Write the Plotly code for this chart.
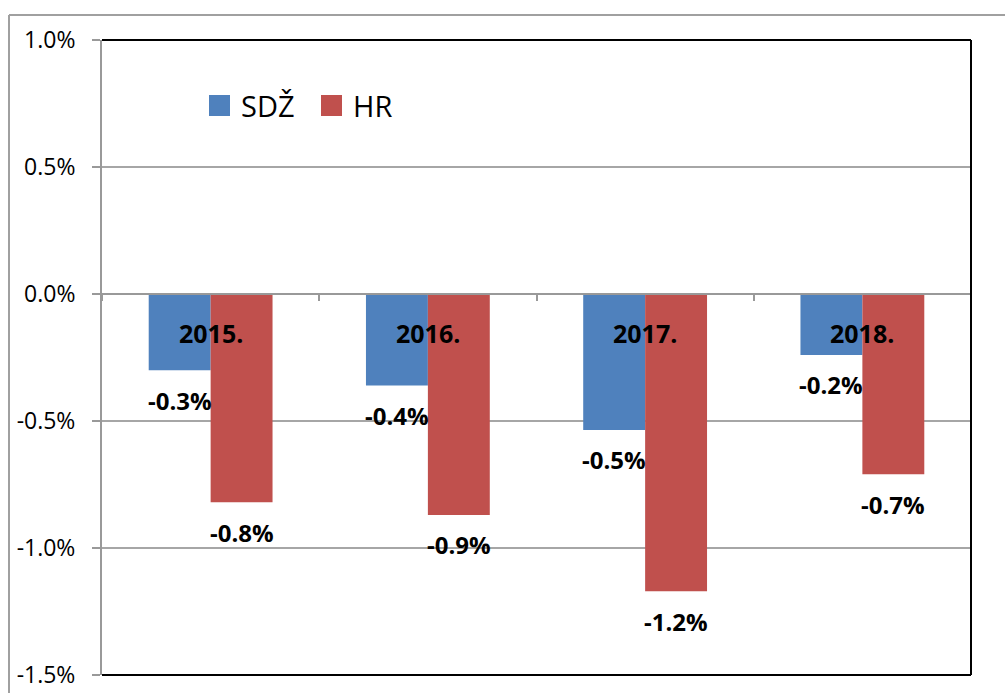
import plotly.graph_objects as go

categories = ["2015.", "2016.", "2017.", "2018."]
series_names = ["SDŽ", "HR"]
sdz_values = [-0.30, -0.36, -0.535, -0.24]
hr_values = [-0.82, -0.87, -1.17, -0.71]
colors = ["#4F81BD", "#C0504D"]
y_ticks = [1.0, 0.5, 0.0, -0.5, -1.0, -1.5]

W, H = 1005, 693
L, R, T, B = 102, 971, 40, 675

def px_x(p):
    return (p - L) / (R - L)

def px_y(p):
    return (B - p) / (B - T)

fig = go.Figure()
for name, vals, col in zip(series_names, [sdz_values, hr_values], colors):
    fig.add_trace(go.Bar(x=categories, y=vals, name=name, marker_color=col,
                         marker_line_width=0, showlegend=False, hoverinfo="skip"))

annotations = []
# category labels (category index positions)
for i, c in enumerate(categories):
    annotations.append(dict(x=i, y=0, xref="x", yref="y", text=f"<b>{c}</b>",
                            showarrow=False, yshift=-39, yanchor="middle",
                            font=dict(family="Open Sans", size=25, color="black")))
# data labels
for vals, shift in [(sdz_values, -31), (hr_values, 31)]:
    for i, v in enumerate(vals):
        annotations.append(dict(x=i, y=v, xref="x", yref="y", text=f"<b>{v:.1f}%</b>",
                                showarrow=False, xshift=shift, yshift=-30, yanchor="middle",
                                font=dict(family="Open Sans", size=24, color="black")))
# legend texts
legend_x = [239, 351]
sq_x = [209, 321]
for name, tx in zip(series_names, legend_x):
    annotations.append(dict(x=px_x(tx), y=px_y(105), xref="paper", yref="paper", text=name,
                            showarrow=False, xanchor="left", yanchor="middle",
                            font=dict(family="Open Sans", size=29, color="black")))

shapes = []
for sx, col in zip(sq_x, colors):
    shapes.append(dict(type="rect", xref="paper", yref="paper",
                       x0=px_x(sx), x1=px_x(sx + 21), y0=px_y(116), y1=px_y(95),
                       fillcolor=col, line_width=0))
# plot frame: top, right, bottom black
shapes.append(dict(type="line", xref="paper", yref="paper", x0=0, x1=1, y0=1, y1=1,
                   line=dict(color="black", width=2)))
shapes.append(dict(type="line", xref="paper", yref="paper", x0=1, x1=1, y0=0, y1=1,
                   line=dict(color="black", width=2)))
shapes.append(dict(type="line", xref="paper", yref="paper", x0=0, x1=1, y0=0, y1=0,
                   line=dict(color="black", width=2)))
# outer chart border (partially cut)
shapes.append(dict(type="line", xref="paper", yref="paper", x0=px_x(9), x1=px_x(1010),
                   y0=px_y(15), y1=px_y(15), line=dict(color="#a0a0a0", width=2)))
shapes.append(dict(type="line", xref="paper", yref="paper", x0=px_x(9), x1=px_x(9),
                   y0=px_y(15), y1=px_y(700), line=dict(color="#a0a0a0", width=2)))

fig.update_layout(
    width=W, height=H,
    margin=dict(l=L, r=W - R, t=T, b=H - B, pad=0, autoexpand=False),
    paper_bgcolor="white", plot_bgcolor="white",
    barmode="group", bargap=0.43, bargroupgap=0,
    showlegend=False,
    annotations=annotations, shapes=shapes,
    xaxis=dict(type="category", range=[-0.5, len(categories) - 0.5],
               anchor="free", position=px_y(294), showticklabels=False,
               ticks="outside", ticklen=6, tickcolor="#999999", tickwidth=2,
               tickson="boundaries", showline=True, linecolor="#999999", linewidth=2,
               showgrid=False, zeroline=False, automargin=False),
    yaxis=dict(range=[-1.5, 1.0], tickvals=y_ticks, ticktext=[f"{v:.1f}%" for v in y_ticks],
               ticks="outside", ticklen=8, tickcolor="#999999", tickwidth=2,
               showline=True, linecolor="#999999", linewidth=2,
               showgrid=True, gridcolor="#a6a6a6", gridwidth=2, zeroline=False,
               ticklabelstandoff=12, automargin=False,
               tickfont=dict(family="Open Sans", size=23, color="black")),
)

fig.write_html("out.html", config={"displayModeBar": False},
               post_script="document.body.style.margin='0';document.body.style.overflow='hidden';")
